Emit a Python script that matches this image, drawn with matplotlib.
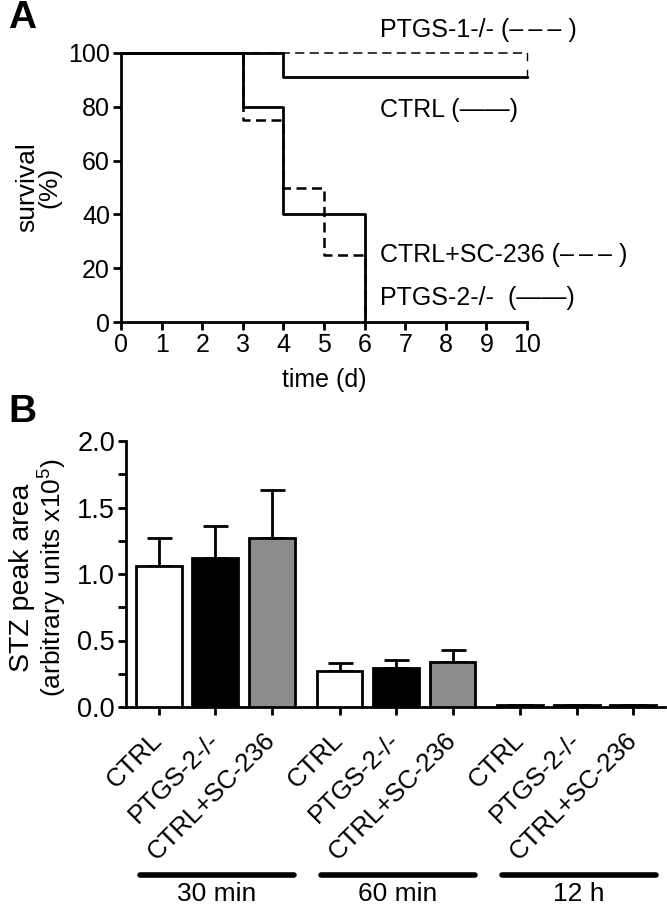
import matplotlib
matplotlib.use("Agg")
import matplotlib.pyplot as plt
from matplotlib.ticker import MultipleLocator, FormatStrFormatter
import numpy as np

plt.rcParams['font.family'] = ['Liberation Sans', 'DejaVu Sans']
plt.rcParams['mathtext.fontset'] = 'custom'
plt.rcParams['mathtext.rm'] = 'Liberation Sans'
plt.rcParams['mathtext.it'] = 'Liberation Sans:italic'
plt.rcParams['mathtext.bf'] = 'Liberation Sans:bold'

# ---------------- Panel A data (Kaplan-Meier survival) ----------------
time_ptgs1 = [0, 10]
surv_ptgs1 = [100, 100]
time_ctrl = [0, 4, 10]
surv_ctrl = [100, 90.9, 90.9]
time_sc236 = [0, 3, 4, 5, 6]
surv_sc236 = [100, 75, 50, 25, 0]
time_ptgs2 = [0, 3, 4, 6]
surv_ptgs2 = [100, 80, 40, 0]
x_ticks_a = list(range(0, 11))
y_ticks_a = [0, 20, 40, 60, 80, 100]

# ---------------- Panel B data ----------------
groups = ["30 min", "60 min", "12 h"]
treatments = ["CTRL", "PTGS-2-/-", "CTRL+SC-236"]
means = [1.06, 1.12, 1.27, 0.27, 0.29, 0.34, 0.012, 0.012, 0.012]
errors = [0.21, 0.24, 0.36, 0.06, 0.06, 0.09, 0.003, 0.003, 0.003]
bar_colors = ["white", "black", "#8c8c8c"]

LW = 2.0

fig = plt.figure(figsize=(6.67, 9.10), dpi=100)

def fx(px):
    return px / 667

def fy(py):
    return 1 - py / 910

# ---------------- Panel A ----------------
axA = fig.add_axes([fx(121), fy(322), fx(527 - 121), (322 - 53) / 910])

def steps(t, s):
    xs, ys = [t[0]], [s[0]]
    for i in range(1, len(t)):
        xs += [t[i], t[i]]
        ys += [s[i - 1], s[i]]
    return xs, ys

xs, ys = steps(time_ptgs1, surv_ptgs1)
axA.plot(xs, ys, color='black', lw=1.1, ls=(0, (6, 3.5)), clip_on=False, zorder=3)
xs, ys = steps(time_ctrl, surv_ctrl)
axA.plot(xs, ys, color='black', lw=2.0, clip_on=False, zorder=4)
xs, ys = steps(time_sc236, surv_sc236)
axA.plot(xs, ys, color='black', lw=1.8, ls=(0, (4, 2.2)), clip_on=False, zorder=3)
xs, ys = steps(time_ptgs2, surv_ptgs2)
axA.plot(xs, ys, color='black', lw=2.0, clip_on=False, zorder=4)
# censor marks at the end of follow-up
axA.plot([10, 10], [100, 97.5], color='black', lw=1.0, clip_on=False)
axA.plot([10, 10], [90.9, 93.5], color='black', lw=1.0, clip_on=False)

axA.set_xlim(0, 10)
axA.set_ylim(0, 100)
axA.set_xticks(x_ticks_a)
axA.set_yticks(y_ticks_a)
for s in ['top', 'right']:
    axA.spines[s].set_visible(False)
for s in ['left', 'bottom']:
    axA.spines[s].set_linewidth(LW)
axA.tick_params(direction='out', length=6, width=LW, labelsize=18, pad=2)
axA.set_xlabel("time (d)", fontsize=18, labelpad=8)

fig.text(fx(27), fy(187), "survival", fontsize=19, rotation=90, ha='center', va='center')
fig.text(fx(49), fy(187), "(%)", fontsize=19, rotation=90, ha='center', va='center')

fig.text(fx(380), fy(30), "PTGS-1-/- (\u2013\u2009\u2013\u2009\u2013 )", fontsize=18, va='center', ha='left')
fig.text(fx(380), fy(110), "CTRL (\u2014\u2014)", fontsize=18, va='center', ha='left')
fig.text(fx(380), fy(255), "CTRL+SC-236 (\u2013\u2009\u2013\u2009\u2013 )", fontsize=18, va='center', ha='left')
fig.text(fx(380), fy(298), "PTGS-2-/-  (\u2014\u2014)", fontsize=18, va='center', ha='left')
fig.text(fx(8), fy(18), "A", fontsize=28, fontweight='bold', va='center', ha='left')

# ---------------- Panel B ----------------
axB = fig.add_axes([fx(126), fy(707), fx(665 - 126), (707 - 441) / 910])
group_step = 3.2
pos = []
for g in range(3):
    for t in range(3):
        pos.append(g * group_step + t)
colors = [bar_colors[i % 3] for i in range(9)]
axB.bar(pos, means, width=0.81, color=colors, edgecolor='black', linewidth=LW, zorder=3)
axB.errorbar(pos, means, yerr=[np.zeros(9), errors], fmt='none', ecolor='black',
             elinewidth=LW, capsize=9, capthick=LW, zorder=2)
axB.set_xlim(-0.58, 8.96)
axB.set_ylim(0, 2.0)
axB.yaxis.set_major_locator(MultipleLocator(0.5))
axB.yaxis.set_minor_locator(MultipleLocator(0.25))
axB.yaxis.set_major_formatter(FormatStrFormatter('%.1f'))
for s in ['top', 'right']:
    axB.spines[s].set_visible(False)
for s in ['left', 'bottom']:
    axB.spines[s].set_linewidth(LW)
axB.tick_params(axis='y', which='major', direction='out', length=6, width=LW, labelsize=19.5, pad=2)
axB.tick_params(axis='y', which='minor', direction='out', length=6, width=LW)
axB.tick_params(axis='x', which='major', direction='out', length=6, width=LW, pad=15)
axB.set_xticks(pos)
axB.set_xticklabels(treatments * 3, rotation=45, ha='right', va='center',
                    rotation_mode='anchor', fontsize=18.5)

fig.text(fx(22), fy(578), "STZ peak area", fontsize=20.5, rotation=90, ha='center', va='center')
fig.text(fx(53), fy(578), "(arbitrary units x10$^5$)", fontsize=19, rotation=90, ha='center', va='center')

# group bars under the category labels
for g in range(3):
    x0 = g * group_step - 0.33
    x1 = g * group_step + 2 + 0.4
    axB.plot([x0, x1], [-1.26, -1.26], color='black', lw=4, clip_on=False, solid_capstyle='round')
    axB.text(g * group_step + 1.03, -1.405, groups[g], ha='center', va='center', fontsize=19)

fig.text(fx(8), fy(412), "B", fontsize=28, fontweight='bold', va='center', ha='left')

fig.savefig("out.png", dpi=100)
